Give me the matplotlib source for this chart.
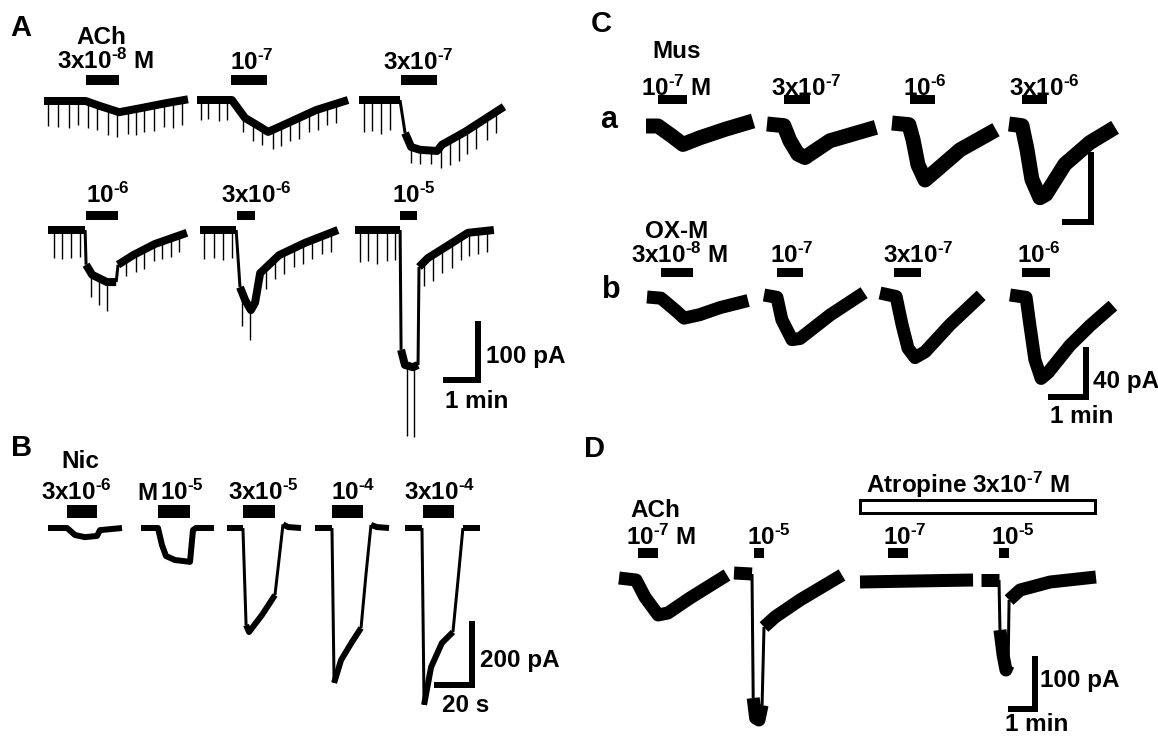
import numpy as np
import matplotlib
matplotlib.use("Agg")
import matplotlib.pyplot as plt
from matplotlib.patches import Rectangle

plt.rcParams.update({
    "font.family": ["Liberation Sans", "DejaVu Sans"],
    "font.weight": "bold",
    "mathtext.fontset": "custom",
    "mathtext.rm": "Liberation Sans:bold",
    "mathtext.it": "Liberation Sans:bold",
    "mathtext.bf": "Liberation Sans:bold",
    "mathtext.default": "rm",
    "mathtext.fallback": "stixsans",
})

HY = "\u2010"  # short hyphen used in the exponents

# ------------------------------------------------------------------ data
# Panel A : ACh, time in min, current in pA
A_labels = ["3x10$^{%s8}$ M" % HY, "10$^{%s7}$" % HY, "3x10$^{%s7}$" % HY,
            "10$^{%s6}$" % HY, "3x10$^{%s6}$" % HY, "10$^{%s5}$" % HY]
A1_t = [0, 1.3, 1.75, 2.35, 3.0, 3.8, 4.5]
A1_i = [0, 0, -9, -20, -13, -4, 3]
A1_bar = [1.3, 2.35]
A1_spk_t = [0.12, 0.44, 0.78, 1.06, 1.38, 1.66, 2.0, 2.28, 2.63, 2.88, 3.13, 3.44, 3.75, 4.03, 4.31]
A1_spk_d = [44, 46, 48, 42, 46, 44, 48, 46, 42, 46, 44, 46, 42, 46, 44]

A2_t = [0, 1.09, 1.5, 1.97, 2.22, 2.69, 3.72, 4.72]
A2_i = [0, 0, -32, -48, -57, -45, -18, 0]
A2_bar = [1.06, 2.19]
A2_spk_t = [0.12, 0.34, 0.69, 0.94, 1.44, 1.75, 2.03, 2.38, 2.63, 2.91, 3.19, 3.5, 3.78, 4.06, 4.34]
A2_spk_d = [36, 34, 38, 36, 30, 32, 30, 34, 36, 34, 38, 34, 36, 32, 34]

A3_t = [0, 1.28, 1.44, 1.63, 1.91, 2.44, 2.59, 3.31, 4.53]
A3_i = [0, 0, -59, -84, -89, -91, -80, -57, -12]
A3_bar = [1.31, 2.44]
A3_spk_t = [0.16, 0.41, 0.69, 0.97, 1.63, 1.91, 2.25, 2.56, 2.84, 3.13, 3.38, 3.66, 4.0, 4.28]
A3_spk_d = [58, 56, 60, 54, 28, 26, 24, 40, 44, 46, 42, 44, 40, 38]

A4_t = [0, 1.16, 1.19, 1.38, 1.84, 2.13, 2.19, 2.66, 3.34, 4.34]
A4_i = [0, 0, -62, -80, -93, -93, -62, -45, -25, -5]
A4_bar = [1.19, 2.19]
A4_spk_t = [0.2, 0.44, 0.72, 1.0, 1.34, 1.59, 1.84, 2.44, 2.75, 3.0, 3.31, 3.56, 3.84, 4.09]
A4_spk_d = [50, 52, 50, 48, 44, 48, 52, 30, 32, 34, 30, 32, 34, 30]

A5_t = [0, 1.13, 1.25, 1.41, 1.59, 1.72, 1.88, 2.47, 3.28, 4.31]
A5_i = [0, 0, -102, -125, -143, -130, -77, -45, -23, 0]
A5_bar = [1.16, 1.72]
A5_spk_t = [0.13, 0.44, 0.72, 1.0, 1.31, 1.56, 2.06, 2.34, 2.63, 2.94, 3.22, 3.5, 3.81, 4.09]
A5_spk_d = [52, 50, 54, 50, 60, 56, 38, 36, 38, 34, 36, 34, 32, 34]

A6_t = [0, 1.41, 1.44, 1.56, 1.81, 1.97, 2.0, 2.28, 2.84, 3.53, 4.34]
A6_i = [0, 0, -214, -241, -245, -241, -66, -50, -30, -5, 0]
A6_bar = [1.41, 1.94]
A6_spk_t = [0.16, 0.41, 0.69, 1.0, 1.25, 1.63, 1.84, 2.16, 2.44, 2.72, 3.03, 3.31, 3.56, 3.84, 4.13]
A6_spk_d = [58, 56, 60, 56, 54, 125, 125, 44, 46, 42, 44, 40, 42, 40, 38]

# Panel B : nicotine, time in s, current in pA
B_labels = ["3x10$^{%s6}$" % HY, "10$^{%s5}$" % HY, "3x10$^{%s5}$" % HY,
            "10$^{%s4}$" % HY, "3x10$^{%s4}$" % HY]
B1_t = [0, 10.9, 15.4, 21.1, 28, 29.7, 42.3]
B1_i = [0, 0, -23, -30, -26, -7, 0]
B1_bar = [10.9, 28]
B2_t = [0, 9.7, 12, 14.3, 19.4, 28, 29.7, 31.4, 41.7]
B2_i = [0, 0, -56, -92, -105, -111, -7, 0, 0]
B2_bar = [9.7, 28]
B3_t = [0, 9.1, 10.9, 12.6, 20, 27.4, 29.7, 32, 34.9, 42.3]
B3_i = [0, 0, -318, -341, -285, -220, -105, 12, 3, 0]
B3_bar = [9.1, 27.4]
B4_t = [0, 9.7, 10.9, 14.9, 21.1, 26.3, 29.1, 32, 35.4, 42.3]
B4_i = [0, 0, -508, -433, -374, -328, -154, 10, 3, 0]
B4_bar = [9.7, 27.4]
B5_t = [0, 9.7, 10.9, 14.9, 21.1, 27.4, 30.3, 33.1, 42.9]
B5_i = [0, 0, -580, -456, -377, -341, -170, 0, 0]
B5_bar = [10.3, 28]

# Panel C : muscarine (a) and oxotremorine-M (b), time in min, current in pA
Ca_labels = ["10$^{%s7}$ M" % HY, "3x10$^{%s7}$" % HY, "10$^{%s6}$" % HY, "3x10$^{%s6}$" % HY]
Ca1_t = [0, 0.46, 1.0, 1.42, 2.08, 3.04, 4.12]
Ca1_i = [0, 0, -6, -11, -7, -2, 3]
Ca1_bar = [0.46, 1.58]
Ca2_t = [0, 0.65, 0.88, 1.19, 1.46, 2.42, 4.19]
Ca2_i = [0, -1, -10, -18, -20, -10, -2]
Ca2_bar = [0.65, 1.65]
Ca3_t = [0, 0.65, 0.81, 1.0, 1.27, 1.65, 2.62, 4.0]
Ca3_i = [0, -1, -10, -25, -34, -29, -16, -4]
Ca3_bar = [0.69, 1.65]
Ca4_t = [0, 0.5, 0.69, 0.88, 1.19, 1.42, 2.15, 3.12, 4.08]
Ca4_i = [0, -1, -15, -33, -44, -42, -24, -11, -2]
Ca4_bar = [0.5, 1.46]

Cb_labels = ["3x10$^{%s8}$ M" % HY, "10$^{%s7}$" % HY, "3x10$^{%s7}$" % HY, "10$^{%s6}$" % HY]
Cb1_t = [0, 0.4, 0.8, 1.06, 1.51, 2.09, 2.89]
Cb1_i = [0, -1, -11, -18, -15, -9, -3]
Cb1_bar = [0.4, 1.31]
Cb2_t = [0, 0.37, 0.51, 0.8, 1.03, 1.89, 2.86]
Cb2_i = [0, -2, -21, -38, -37, -17, 2]
Cb2_bar = [0.37, 1.11]
Cb3_t = [0, 0.46, 0.63, 0.8, 1.0, 1.29, 2.0, 2.89]
Cb3_i = [0, -3, -27, -47, -55, -50, -27, -2]
Cb3_bar = [0.4, 1.17]
Cb4_t = [0, 0.46, 0.57, 0.71, 0.89, 1.09, 1.71, 2.29, 2.94]
Cb4_i = [0, -2, -26, -55, -71, -66, -43, -26, -9]
Cb4_bar = [0.34, 1.14]

# Panel D : ACh with / without atropine, time in min, current in pA
D_labels = ["10$^{%s7}$ M" % HY, "10$^{%s5}$" % HY, "10$^{%s7}$" % HY, "10$^{%s5}$" % HY]
D1_t = [0, 0.71, 1.08, 1.63, 2.04, 2.96, 4.5]
D1_i = [0, -4, -38, -74, -70, -40, 6]
D1_bar = [0.79, 1.63]
D2_t = [0, 0.75, 0.8, 0.9, 1.04, 1.17, 1.25, 1.71, 2.75, 4.5]
D2_i = [0, -2, -250, -290, -294, -264, -108, -88, -54, -4]
D2_bar = [0.83, 1.25]
D3_t = [0, 2.3, 4.71]
D3_i = [0, 2, 4]
D3_bar = [1.17, 2.0]
D4_t = [0, 0.75, 0.79, 0.92, 1.04, 1.13, 1.17, 1.63, 2.88, 4.79]
D4_i = [0, 0, -100, -150, -180, -170, -40, -20, -4, 6]
D4_bar = [0.75, 1.17]
D_atropine = [0, 9.8]   # min, relative to start of third trace

# ------------------------------------------------------------------ drawing
W, H = 1158, 737
fig = plt.figure(figsize=(W / 100, H / 100), dpi=100)
fig.patch.set_facecolor("white")
PT = 0.72  # points per pixel
FS = 17.5


class Panel:
    def __init__(self, box, sx, sy):
        l, t, r, b = box
        self.ax = fig.add_axes([l / W, 1 - b / H, (r - l) / W, (b - t) / H])
        self.ax.set_xlim(0, (r - l) / sx)
        self.ax.set_ylim(-(b - t) / sy, 0)
        self.ax.set_axis_off()
        self.l, self.t, self.sx, self.sy = l, t, sx, sy

    def x(self, px):
        return (px - self.l) / self.sx

    def y(self, py):
        return -(py - self.t) / self.sy

    def trace(self, origin, t, i, lw_px, bar, bar_px, spk_t=None, spk_d=None, thin=()):
        x0, y0 = self.x(origin[0]), self.y(origin[1])
        t = np.asarray(t, float)
        i = np.asarray(i, float)
        if spk_t is not None:
            st = np.asarray(spk_t, float)
            base = np.interp(st, t, i)
            self.ax.vlines(x0 + st, y0 + base, y0 + base - np.asarray(spk_d, float),
                           color="black", lw=1.0, clip_on=False)
        # group consecutive segments into thick / thin runs (fast transients are thin)
        n = len(t) - 1
        k = 0
        while k < n:
            is_thin = k in thin
            j = k
            while j + 1 < n and ((j + 1) in thin) == is_thin:
                j += 1
            lw = 3.0 if is_thin else lw_px
            self.ax.plot(x0 + t[k:j + 2], y0 + i[k:j + 2], color="black", lw=lw * PT,
                         solid_joinstyle="round", solid_capstyle="butt", clip_on=False)
            k = j + 1
        yt, yb = self.y(bar_px[0]), self.y(bar_px[1])
        self.ax.add_patch(Rectangle((x0 + bar[0], yb), bar[1] - bar[0], yt - yb,
                                    facecolor="black", edgecolor="none", clip_on=False))

    def scalebar(self, corner, dx, dy, lw_px=6):
        cx, cy = self.x(corner[0]), self.y(corner[1])
        self.ax.plot([cx - dx, cx, cx], [cy, cy, cy + dy], color="black", lw=lw_px * PT,
                     solid_joinstyle="miter", solid_capstyle="projecting", clip_on=False)


def label(px, py, s, size=FS, ha="left"):
    fig.text(px / W, 1 - py / H, s, fontsize=size, fontweight="bold",
             ha=ha, va="baseline", color="black")


# ---- Panel A
pA = Panel((0, 0, 580, 437), 32.0, 0.56)
A_traces = [(A1_t, A1_i, A1_bar, A1_spk_t, A1_spk_d), (A2_t, A2_i, A2_bar, A2_spk_t, A2_spk_d),
            (A3_t, A3_i, A3_bar, A3_spk_t, A3_spk_d), (A4_t, A4_i, A4_bar, A4_spk_t, A4_spk_d),
            (A5_t, A5_i, A5_bar, A5_spk_t, A5_spk_d), (A6_t, A6_i, A6_bar, A6_spk_t, A6_spk_d)]
A_origin = [(44, 101), (197, 100), (359, 100), (48, 230), (200, 230), (355, 230)]
A_barpx = [(75, 85)] * 3 + [(211, 220)] * 3
A_lblpos = [(57, 69), (230, 70), (383, 70), (86, 203), (221, 203), (392, 203)]
A_thin = [(), (), (1,), (1, 5), (1,), (1, 5)]
for (t, i, bar, st, sd), org, bp, lp, lab, th in zip(A_traces, A_origin, A_barpx, A_lblpos,
                                                     A_labels, A_thin):
    pA.trace(org, t, i, 8, bar, bp, st, sd, thin=th)
    label(lp[0], lp[1], lab)
label(76, 44, "ACh")
label(10, 36, "A", size=21)
pA.scalebar((477.5, 380), 1.0, 100)
label(486, 363, "100 pA")
label(445, 408, "1 min")

# ---- Panel B
pB = Panel((0, 437, 580, 737), 1.75, 0.305)
B_traces = [(B1_t, B1_i, B1_bar), (B2_t, B2_i, B2_bar), (B3_t, B3_i, B3_bar),
            (B4_t, B4_i, B4_bar), (B5_t, B5_i, B5_bar)]
B_origin = [(48, 528), (141, 528), (227, 528), (315, 528), (405, 528)]
B_lblpos = [(41, 500), (160, 500), (228, 500), (331, 500), (404, 500)]
B_thin = [(), (), (1, 5, 6), (1, 5, 6), (1, 5, 6)]
for (t, i, bar), org, lp, lab, th in zip(B_traces, B_origin, B_lblpos, B_labels, B_thin):
    pB.trace(org, t, i, 6, bar, (505, 518), thin=th)
    label(lp[0], lp[1], lab)
label(137, 500, "M")
label(61, 468, "Nic")
label(11, 456, "B", size=21)
pB.scalebar((472, 685), 20, 200)
label(480, 667, "200 pA")
label(442, 712, "20 s")

# ---- Panel C
pCa = Panel((580, 0, 1158, 240), 26.0, 1.675)
Ca_traces = [(Ca1_t, Ca1_i, Ca1_bar), (Ca2_t, Ca2_i, Ca2_bar), (Ca3_t, Ca3_i, Ca3_bar), (Ca4_t, Ca4_i, Ca4_bar)]
Ca_origin = [(646, 126), (767, 124), (892, 123), (1009, 124)]
Ca_lblpos = [(641, 96), (771, 96), (903, 96), (1009, 96)]
for (t, i, bar), org, lp, lab in zip(Ca_traces, Ca_origin, Ca_lblpos, Ca_labels):
    pCa.trace(org, t, i, 15, bar, (95, 104))
    label(lp[0], lp[1], lab)
pCa.scalebar((1090.5, 222), 1.0, 40)
label(652, 58, "Mus")
label(600, 128, "a", size=22)
label(591, 32, "C", size=21)

pCb = Panel((580, 240, 1158, 437), 35.0, 1.175)
Cb_traces = [(Cb1_t, Cb1_i, Cb1_bar), (Cb2_t, Cb2_i, Cb2_bar), (Cb3_t, Cb3_i, Cb3_bar), (Cb4_t, Cb4_i, Cb4_bar)]
Cb_origin = [(647, 297), (764, 295), (880, 293), (1010, 295)]
Cb_lblpos = [(631, 263), (770, 263), (883, 263), (1017, 263)]
for (t, i, bar), org, lp, lab in zip(Cb_traces, Cb_origin, Cb_lblpos, Cb_labels):
    pCb.trace(org, t, i, 13, bar, (268, 277))
    label(lp[0], lp[1], lab)
pCb.scalebar((1085.5, 397), 1.0, 40)
label(645, 238, "OX-M")
label(602, 298, "b", size=22)
label(1093, 388, "40 pA")
label(1050, 423, "1 min")

# ---- Panel D
pD = Panel((580, 437, 1158, 737), 24.0, 0.5)
D_traces = [(D1_t, D1_i, D1_bar), (D2_t, D2_i, D2_bar), (D3_t, D3_i, D3_bar), (D4_t, D4_i, D4_bar)]
D_origin = [(619, 578), (734, 573), (860, 582), (981, 580)]
D_lblpos = [(626, 545), (747, 545), (883, 545), (991, 545)]
D_thin = [(), (1, 5), (), (1, 5)]
for (t, i, bar), org, lp, lab, th in zip(D_traces, D_origin, D_lblpos, D_labels, D_thin):
    pD.trace(org, t, i, 13, bar, (548, 558), thin=th)
    label(lp[0], lp[1], lab)
x3 = pD.x(D_origin[2][0])
yt, yb = pD.y(500), pD.y(513)
pD.ax.add_patch(Rectangle((x3 + D_atropine[0], yb), D_atropine[1] - D_atropine[0], yt - yb,
                          facecolor="white", edgecolor="black", lw=3 * PT, clip_on=False))
label(866, 493, "Atropine 3x10$^{%s7}$ M" % HY)
label(630, 517, "ACh")
label(584, 457, "D", size=21)
pD.scalebar((1034.5, 709), 1.0, 100)
label(1040, 687, "100 pA")
label(1005, 731, "1 min")

fig.savefig("out.png", dpi=100, facecolor="white")
